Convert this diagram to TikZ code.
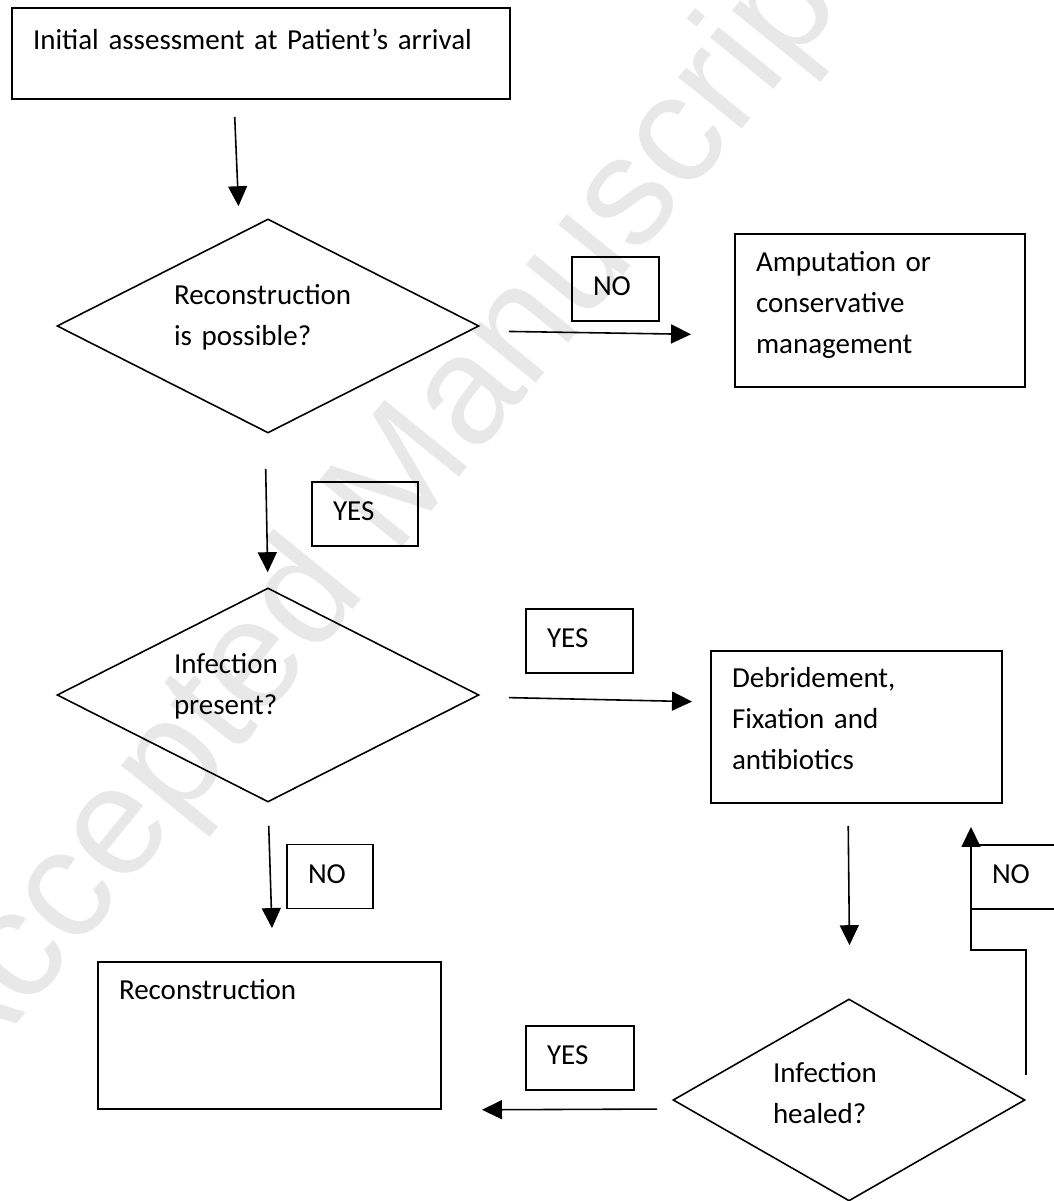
\documentclass[tikz,border=0pt]{standalone}
\usepackage{fontspec}
\setmainfont{Carlito}
\newfontfamily\markfont{Liberation Sans}
\usetikzlibrary{positioning,calc,shapes.geometric,arrows.meta}
\tikzstyle{block} = [draw, line width=1.1pt, rectangle, align=left, inner xsep=0.42cm, inner ysep=0pt]
\tikzstyle{decision} = [draw, line width=0.9pt, diamond, aspect=2, align=left, inner sep=0pt, text height=0.4cm]
\tikzstyle{answer} = [draw, line width=1.1pt, rectangle, align=left, inner xsep=0.42cm, inner ysep=0pt, text height=0.78cm, text depth=0.5cm]
\tikzstyle{conn} = [->, line width=0.9pt]

\begin{document}
\begin{tikzpicture}[>={Triangle[length=0.4cm,width=0.38cm]}, font=\fontsize{16.5}{23.3}\selectfont]
    \useasboundingbox (0,0) rectangle (21.08,24.02);
    \clip (0,0) rectangle (21.08,24.02);
    % watermark
    \node [rotate=51, text=black!9, font=\markfont\fontsize{88}{88}\selectfont] (mark) at (7.7,13.9) {Accepted Manuscript};

    \node [block, text width=9.12cm, text height=0.84cm, text depth=0.98cm] (start) at (5.22,22.95) {Initial assessment at Patient's arrival};
    \node [decision, below of=start, node distance=5.45cm, xshift=0.14cm, minimum width=8.44cm, minimum height=4.28cm, text width=3.76cm, text depth=1.24cm] (recq) {Reconstruction\\is possible?};
    \node [decision, below of=recq, node distance=7.38cm, minimum width=8.44cm, minimum height=4.28cm, text width=3.76cm, text depth=1.24cm] (infq) {Infection\\present?};
    \node [block, right of=recq, node distance=12.24cm, yshift=0.31cm, text width=4.96cm, text height=0.76cm, text depth=2.3cm] (amp) {Amputation or\\conservative\\management};
    \node [block, right of=infq, node distance=11.77cm, yshift=-0.64cm, text width=4.98cm, text height=0.74cm, text depth=2.3cm] (debr) {Debridement,\\Fixation and\\antibiotics};
    \node [decision, below of=debr, node distance=7.46cm, xshift=-0.15cm, minimum width=7.04cm, minimum height=4.04cm, text width=3.04cm, text depth=1.08cm] (healq) {Infection\\healed?};
    \node [block, below of=infq, node distance=6.81cm, xshift=0.03cm, text width=6.02cm, text height=0.76cm, text depth=2.18cm] (recon) {Reconstruction};

    % answer boxes
    \node [answer, right of=recq, node distance=6.95cm, yshift=0.74cm, text width=0.9cm] (no1) {NO};
    \node [answer, below of=recq, node distance=3.76cm, xshift=1.94cm, text width=1.28cm] (yes1) {YES};
    \node [answer, right of=infq, node distance=6.23cm, yshift=1.08cm, text width=1.3cm] (yes2) {YES};
    \node [answer, below of=infq, node distance=3.63cm, xshift=1.24cm, text width=0.88cm] (no2) {NO};
    \node [answer, left of=healq, node distance=5.38cm, yshift=0.84cm, text width=1.32cm] (yes3) {YES};
    \node [answer, above of=healq, node distance=4.46cm, xshift=3.64cm, text width=1.56cm] (no3) {NO};

    \draw [conn, shorten <=0.34cm, shorten >=0.24cm] ([xshift=-0.54cm]start.south) -- ([xshift=-0.58cm]recq.north);
    \draw [conn, shorten <=0.58cm, shorten >=0.86cm] ([yshift=-0.1cm]recq.east) -- ([yshift=-0.49cm]amp.west);
    \draw [conn, shorten <=0.7cm, shorten >=0.3cm] ([xshift=-0.06cm]recq.south) -- (infq.north);
    \draw [conn, shorten <=0.58cm, shorten >=0.36cm] ([yshift=-0.04cm]infq.east) -- ([yshift=0.5cm]debr.west);
    \draw [conn, shorten <=0.46cm, shorten >=0.66cm] (infq.south) -- ([xshift=0.07cm]recon.north);
    \draw [conn, shorten <=0.44cm, shorten >=1.06cm] ([xshift=-0.17cm]debr.south) -- ([xshift=0.02cm]healq.north);
    \draw [conn, shorten <=0.3cm, shorten >=0.8cm] ([yshift=-0.18cm]healq.west) -- (recon.south east);
    \draw [conn] ([yshift=0.5cm]healq.east) -- ++(0,2.5) -| ([xshift=2.29cm,yshift=-0.46cm]debr.south);
\end{tikzpicture}
\end{document}
